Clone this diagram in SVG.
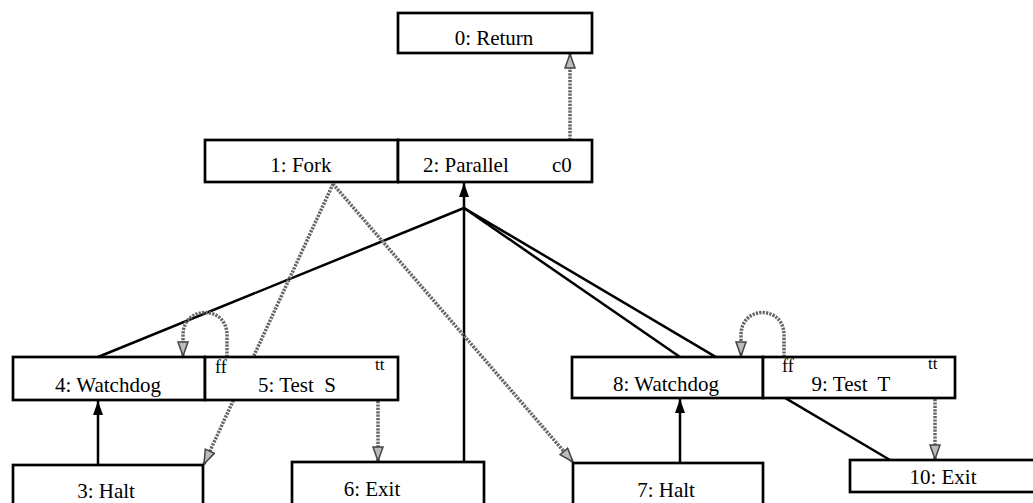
<svg xmlns="http://www.w3.org/2000/svg" width="1033" height="503" viewBox="0 0 1033 503">
<defs>
<style>
.box{fill:#fff;stroke:#000;stroke-width:2.7}
.k{fill:none;stroke:#000;stroke-width:2.5}
.g{fill:none;stroke:#666;stroke-width:3.5;stroke-dasharray:2.2 1.2}
</style>
<marker id="ab" markerUnits="userSpaceOnUse" markerWidth="16" markerHeight="12" refX="14" refY="5" orient="auto">
<path d="M0,0 L14,5 L0,10 z" fill="#000"/>
</marker>
<marker id="ag" markerUnits="userSpaceOnUse" markerWidth="18" markerHeight="14" refX="15" refY="6" orient="auto">
<path d="M1,1 L15,6 L1,11 z" fill="#bbb" stroke="#444" stroke-width="1.5"/>
</marker>
</defs>
<rect width="1033" height="503" fill="#fff"/>
<g id="connectors">
<path class="g" d="M570,140 L570,54" marker-end="url(#ag)"/>
<path class="k" d="M464,462 L464,183" marker-end="url(#ab)"/>
<path class="k" d="M464,208 L98,357"/>
<path class="k" d="M464,208 L680,357"/>
<path class="k" d="M464,208 L890,460"/>
<path class="k" d="M98,465 L98,401" marker-end="url(#ab)"/>
<path class="k" d="M680,463 L680,399" marker-end="url(#ab)"/>
<path class="g" d="M333,184 L204,464" marker-end="url(#ag)"/>
<path class="g" d="M333,184 L573,462" marker-end="url(#ag)"/>
<path class="g" d="M378,401 L378,461" marker-end="url(#ag)"/>
<path class="g" d="M935,399 L935,459" marker-end="url(#ag)"/>
<path class="g" d="M227,357 L227,335 C227,305 183,305 183,335 L183,356" marker-end="url(#ag)"/>
<path class="g" d="M784,357 L784,335 C784,305 741,305 741,335 L741,356" marker-end="url(#ag)"/>
</g>
<g font-family="'Liberation Serif', 'Times New Roman', serif" font-size="21" fill="#000">
<g id="n0"><rect class="box" x="398" y="13" width="194" height="40"/><text text-anchor="middle" x="494" y="45">0: Return</text></g>
<g id="n1"><rect class="box" x="205" y="140" width="193" height="42"/><text text-anchor="middle" x="301" y="172">1: Fork</text></g>
<g id="n2"><rect class="box" x="398" y="140" width="194" height="42"/><text x="423" y="172">2: Parallel</text><text x="552" y="172">c0</text></g>
<g id="n4"><rect class="box" x="13" y="357" width="192" height="43"/><text text-anchor="middle" x="108" y="392">4: Watchdog</text></g>
<g id="n5"><rect class="box" x="205" y="357" width="193" height="43"/><text font-size="18" x="215" y="373">ff</text><text text-anchor="middle" x="297" y="392" xml:space="preserve">5: Test  S</text><text font-size="17" x="375" y="370">tt</text></g>
<g id="n3"><rect class="box" x="13" y="465" width="190" height="50"/><text text-anchor="middle" x="106" y="498">3: Halt</text></g>
<g id="n6"><rect class="box" x="292" y="462" width="192" height="50"/><text text-anchor="middle" x="372" y="496">6: Exit</text></g>
<g id="n7"><rect class="box" x="573" y="463" width="190" height="50"/><text text-anchor="middle" x="666" y="497">7: Halt</text></g>
<g id="n8"><rect class="box" x="572" y="357" width="191" height="41"/><text text-anchor="middle" x="666" y="391">8: Watchdog</text></g>
<g id="n9"><rect class="box" x="763" y="357" width="192" height="41"/><text font-size="18" x="782" y="372">ff</text><text text-anchor="middle" x="851" y="391" xml:space="preserve">9: Test  T</text><text font-size="17" x="928" y="369">tt</text></g>
<g id="n10"><rect class="box" x="850" y="460" width="200" height="32"/><text text-anchor="middle" x="943" y="484">10: Exit</text></g>
</g>
</svg>
